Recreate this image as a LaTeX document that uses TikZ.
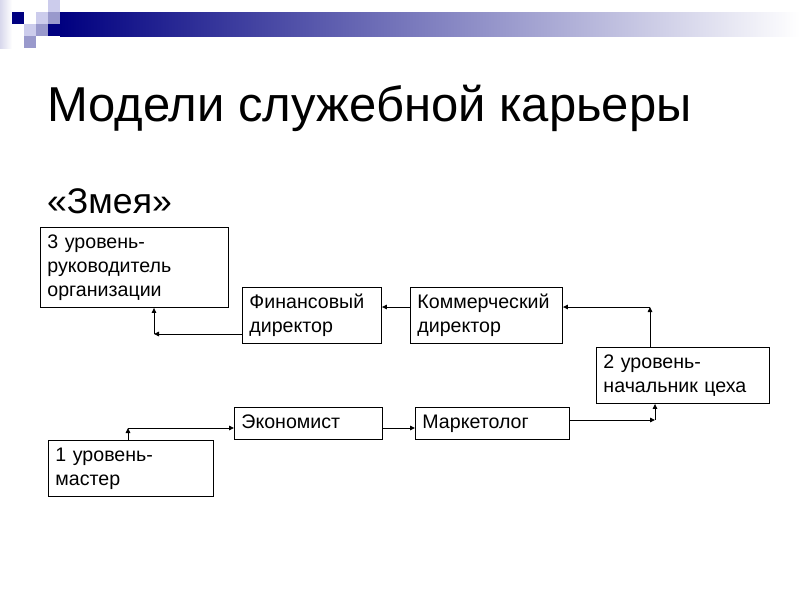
\documentclass[tikz,border=0pt]{standalone}
\usepackage{fontspec}
\setmainfont{Liberation Sans}
\usetikzlibrary{arrows.meta}
\definecolor{navy}{RGB}{0,0,128}
\definecolor{lavmid}{RGB}{153,153,204}
\definecolor{lavlight}{RGB}{204,204,236}
\definecolor{lavfade}{RGB}{216,216,236}
\begin{document}
\begin{tikzpicture}[x=1pt,y=-1pt,
  boxnode/.style={draw, line width=0.9pt, rectangle, anchor=north west,
    inner xsep=7pt, inner ysep=0pt, align=left,
    font=\fontsize{19.6}{24}\selectfont},
  arr/.style={line width=0.9pt, -{Triangle[length=5pt,width=4.5pt]}},
  titletext/.style={anchor=base west, inner sep=0pt, font=\fontsize{49}{58}\selectfont},
  subtext/.style={anchor=base west, inner sep=0pt, font=\fontsize{35.6}{42}\selectfont}
]
\useasboundingbox (0,0) rectangle (800,600);
\fill[white] (0,0) rectangle (800,600);
% top decoration
\shade[left color=lavfade, right color=white] (0,0) rectangle (12,48);
\shade[left color=navy, right color=white] (60,12) rectangle (800,36);
\fill[lavlight] (48,0) rectangle (60,12);
\fill[navy] (12,12) rectangle (24,24);
\fill[lavlight] (36,12) rectangle (48,24);
\fill[lavmid] (48,12) rectangle (60,24);
\fill[lavlight] (24,24) rectangle (36,36);
\fill[lavmid] (36,24) rectangle (48,36);
\fill[navy] (48,24) rectangle (60,36);
\fill[lavmid] (24,36) rectangle (36,48);
% titles
\node[titletext] (title) at (47,121) {Модели служебной карьеры};
\node[subtext] (sub) at (47,213) {«Змея»};
% boxes
\node[boxnode, text width=174pt, minimum height=80pt] (l3) at (40,227) {3 уровень-\\руководитель\\организации};
\node[boxnode, text width=125pt, minimum height=56pt] (fin) at (242,287) {Финансовый\\директор};
\node[boxnode, text width=138pt, minimum height=56pt] (com) at (410,287) {Коммерческий\\директор};
\node[boxnode, text width=159pt, minimum height=56pt] (l2) at (596,347) {2 уровень-\\начальник цеха};
\node[boxnode, text width=134pt, minimum height=32pt] (eco) at (234,407) {\strut Экономист};
\node[boxnode, text width=140pt, minimum height=32pt] (mar) at (415,407) {\strut Маркетолог};
\node[boxnode, text width=151pt, minimum height=56pt] (l1) at (48,440) {1 уровень-\\мастер};
% corner points
\coordinate (c1) at (128,428);
\coordinate (c3) at (655,420);
\coordinate (c4) at (650,307);
\coordinate (c6) at (154,334);
% connectors
\draw[arr] (l1.north -| c1) -- (c1);
\draw[arr] (c1) -- (eco.west |- c1);
\draw[arr] (eco.east |- c1) -- (mar.west |- c1);
\draw[arr] (mar.east |- c3) -- (c3);
\draw[arr] (c3) -- (l2.south -| c3);
\draw[arr] (l2.north -| c4) -- (c4);
\draw[arr] (c4) -- (com.east |- c4);
\draw[arr] (com.west |- c4) -- (fin.east |- c4);
\draw[arr] (fin.west |- c6) -- (c6);
\draw[arr] (c6) -- (l3.south -| c6);
\end{tikzpicture}
\end{document}
